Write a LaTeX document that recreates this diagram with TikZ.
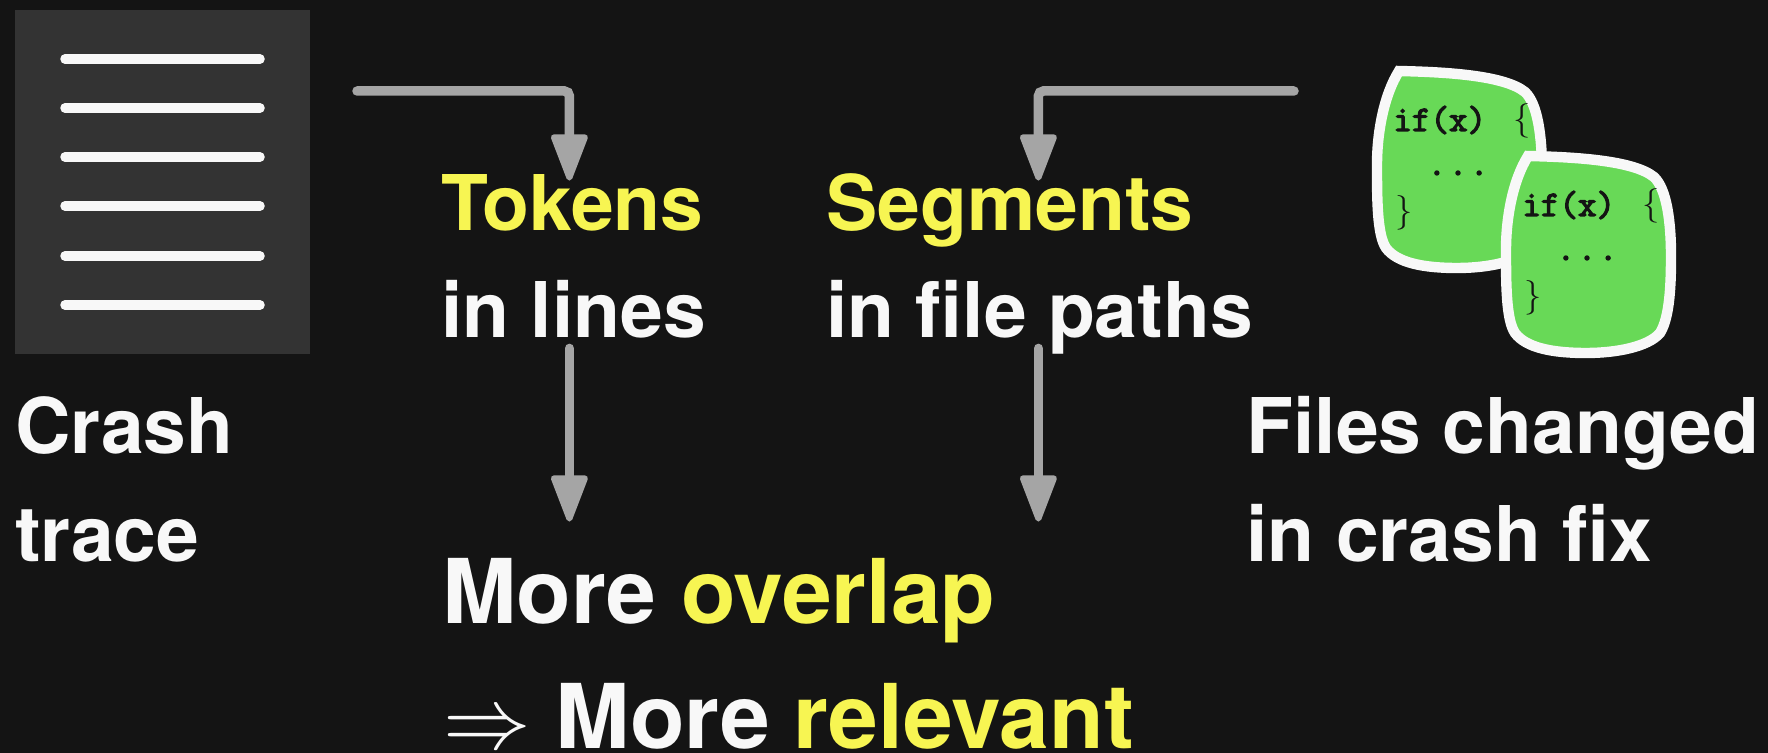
\documentclass[tikz,border=0pt]{standalone}
\usepackage{fontspec}
\setmainfont{TeX Gyre Heros}
\setmonofont[AutoFakeBold=3.5]{Latin Modern Mono}
\usetikzlibrary{arrows.meta}
\definecolor{backdrop}{HTML}{141414}
\definecolor{sheetgray}{HTML}{333333}
\definecolor{paper}{HTML}{F8F8F8}
\definecolor{hilite}{HTML}{F7F552}
\definecolor{filegreen}{HTML}{68D957}
\definecolor{linegray}{HTML}{A5A5A5}
\tikzset{
  codefile/.pic={
    \path [draw=paper, fill=filegreen, line width=5.2pt]
      (0,0) .. controls (45,1) and (105,4) .. (126,21)
      .. controls (139,33) and (143,67) .. (143,100)
      .. controls (143,127) and (142,161) .. (132,177)
      .. controls (120,191) and (88,197) .. (58,197)
      .. controls (25,197) and (-2,192) .. (-13,177)
      .. controls (-22,164) and (-22,127) .. (-22,94)
      .. controls (-22,61) and (-15,24) .. (0,0) -- cycle;
    \node [codetext, anchor=base west] (-cond) at (-6,60) {if(x)};
    \node [bracetext] (-open) at (123,50) {$\{$};
    \node [codetext] (-dots) at (59,102) {.\kern1.3pt.\kern1.3pt.};
    \node [bracetext] (-close) at (5,142) {$\}$};
  },
}
\begin{document}
\begin{tikzpicture}[x=0.5pt,y=-0.5pt,
    line/.style={draw=linegray, line width=4.75pt, line cap=round, rounded corners=2.5pt,
      -{Triangle[length=26pt,width=19pt,round,line width=3pt]}},
    textnode/.style={anchor=base west, inner sep=0pt, text=paper, align=left, font=\bfseries\fontsize{38.4}{46}\selectfont,
      text height=25pt, text depth=5pt},
    bigtext/.style={textnode, font=\bfseries\fontsize{44.7}{54}\selectfont},
    codetext/.style={inner sep=0pt, text=backdrop, font=\ttfamily\bfseries\fontsize{18}{20}\selectfont},
    bracetext/.style={inner sep=0pt, text=backdrop, font=\fontsize{16}{20}\selectfont},
    ]
    \path [use as bounding box, fill=backdrop] (0,0) rectangle (1768,753);

    % Crash trace sheet
    \node [fill=sheetgray, minimum width=147.5pt, minimum height=172pt, inner sep=0pt] (sheet) at (162.5,182) {};
    \foreach \y in {59,108,157,206,256,305}
      \draw [paper, line width=4.75pt, line cap=round] (65,\y) -- (260,\y);

    % Place nodes
    \node [textnode] (crash) at (15,454) {Crash};
    \node [textnode] (trace) at (15,561) {trace};
    \node [textnode, text=hilite, text width=128pt] (tokens) at (441,231) {Tokens};
    \node [textnode, text width=128pt] (inlines) at (441,338) {\mbox{in\hspace{-2.2pt} lines}};
    \node [textnode, text=hilite, text width=212pt] (segments) at (826,231) {Segments};
    \node [textnode, text width=212pt] (infile) at (826,338) {\mbox{in\hspace{-2.2pt} file\hspace{-2.2pt} paths}};
    \node [textnode] (changed) at (1246,454) {Files changed};
    \node [textnode] (fix) at (1246,561) {in crash fix};
    \node [bigtext, text height=51pt] (overlap) at (442,624) {More \textcolor{hilite}{overlap}};
    \node [bigtext] (relevant) at (443,748) {\scalebox{1.76}{$\Rightarrow$} More\hspace{-.5pt} \textcolor{hilite}{relevant}};

    % Changed files
    \pic (fileone) at (1399,71) {codefile};
    \pic (filetwo) at (1528,156) {codefile};

    % Draw edges
    \coordinate (traceout) at (357,91);
    \coordinate (fixout) at (1294,91);
    \path [line] (traceout) -| (tokens.north);
    \path [line] (fixout) -| (segments.north);
    \path [line] (inlines.south) -- (inlines.south |- overlap.north);
    \path [line] (infile.south) -- (infile.south |- overlap.north);
  \end{tikzpicture}
\end{document}
